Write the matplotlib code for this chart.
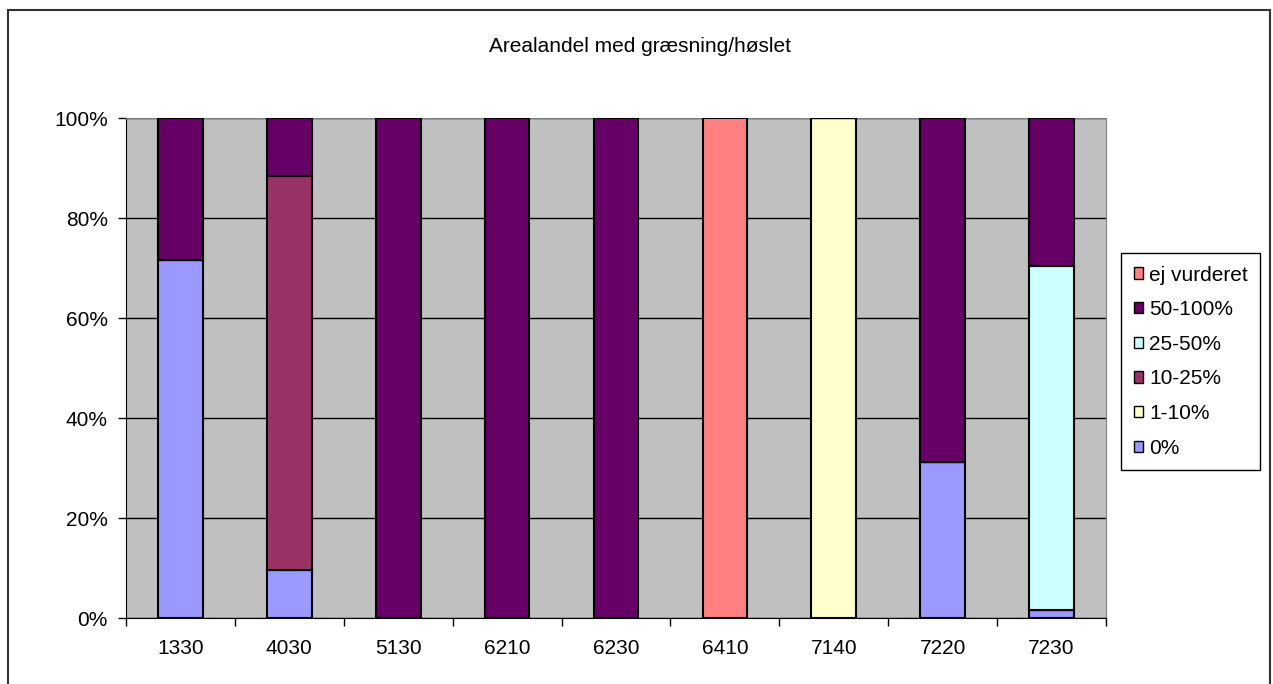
import matplotlib
matplotlib.use("Agg")
import matplotlib.pyplot as plt
import numpy as np
from matplotlib.patches import Rectangle
from matplotlib.ticker import FuncFormatter, FixedLocator

plt.rcParams['font.family'] = ['Liberation Sans', 'DejaVu Sans']

# habitat type codes on the x axis
categories = ['1330', '4030', '5130', '6210', '6230', '6410', '7140', '7220', '7230']

# share of area (%) in each grazing/mowing class, stacked from the bottom
share_0 = [71.7, 9.7, 0, 0, 0, 0, 0, 31.2, 1.6]
share_1_10 = [0, 0, 0, 0, 0, 0, 100, 0, 0]
share_10_25 = [0, 78.7, 0, 0, 0, 0, 0, 0, 0]
share_25_50 = [0, 0, 0, 0, 0, 0, 0, 0, 68.8]
share_50_100 = [28.3, 11.6, 100, 100, 100, 0, 0, 68.8, 29.6]
share_ej = [0, 0, 0, 0, 0, 100, 0, 0, 0]

series = [
    ('0%', share_0, '#9999FF'),
    ('1-10%', share_1_10, '#FFFFCC'),
    ('10-25%', share_10_25, '#993366'),
    ('25-50%', share_25_50, '#CCFFFF'),
    ('50-100%', share_50_100, '#660066'),
    ('ej vurderet', share_ej, '#FF8080'),
]

FS = 15

W, H = 1273, 684
fig = plt.figure(figsize=(W / 100, H / 100), dpi=100)
ax = fig.add_axes([126 / W, 1 - 618 / H, (1106 - 126) / W, (618 - 118) / H])
ax.set_facecolor('#C0C0C0')

x = np.arange(len(categories))
bottom = np.zeros(len(categories))
handles = []
for label, vals, color in series:
    vals = np.array(vals, dtype=float) / 100
    b = ax.bar(x, vals, width=0.41, bottom=bottom, color=color,
               edgecolor='black', linewidth=1.5, label=label, zorder=3)
    handles.append(b)
    bottom += vals

ax.set_xlim(-0.5, len(categories) - 0.5)
ax.set_ylim(0, 1)

ax.set_yticks(np.arange(0, 1.01, 0.2))
ax.yaxis.set_major_formatter(FuncFormatter(lambda v, p: f'{v * 100:.0f}%'))
ax.grid(axis='y', color='black', linewidth=1, zorder=1)
ax.set_axisbelow(True)

ax.set_xticks(x)
ax.set_xticklabels(categories)
ax.tick_params(axis='x', which='major', length=0, pad=15)
ax.xaxis.set_minor_locator(FixedLocator(np.arange(-0.5, len(categories), 1)))
ax.tick_params(axis='x', which='minor', length=6, width=1, color='black')
ax.tick_params(axis='y', length=6, width=1, color='black', pad=7)
ax.tick_params(labelsize=FS)

for side in ['top', 'right']:
    ax.spines[side].set_color('#808080')
for side in ['left', 'bottom']:
    ax.spines[side].set_color('black')

fig.text(0.5025, 1 - 47 / H, 'Arealandel med græsning/høslet',
         ha='center', va='center', fontsize=FS)

leg = fig.legend(handles[::-1], [s[0] for s in series][::-1],
                 loc='upper left', bbox_to_anchor=(1121 / W, 1 - 253 / H),
                 fontsize=FS, fancybox=False, edgecolor='black', framealpha=1,
                 handlelength=0.45, handleheight=0.45, handletextpad=0.3,
                 labelspacing=0.75, borderpad=0.6, borderaxespad=0)
leg.get_frame().set_linewidth(1)
for h in leg.legend_handles:
    h.set_linewidth(1)

# outer chart border
fig.patches.append(Rectangle((8 / W, -0.1), (1270 - 8) / W, 1.1 - 10 / H,
                             transform=fig.transFigure, fill=False,
                             edgecolor='#333333', linewidth=1.5))

fig.savefig('out.png', dpi=100)
